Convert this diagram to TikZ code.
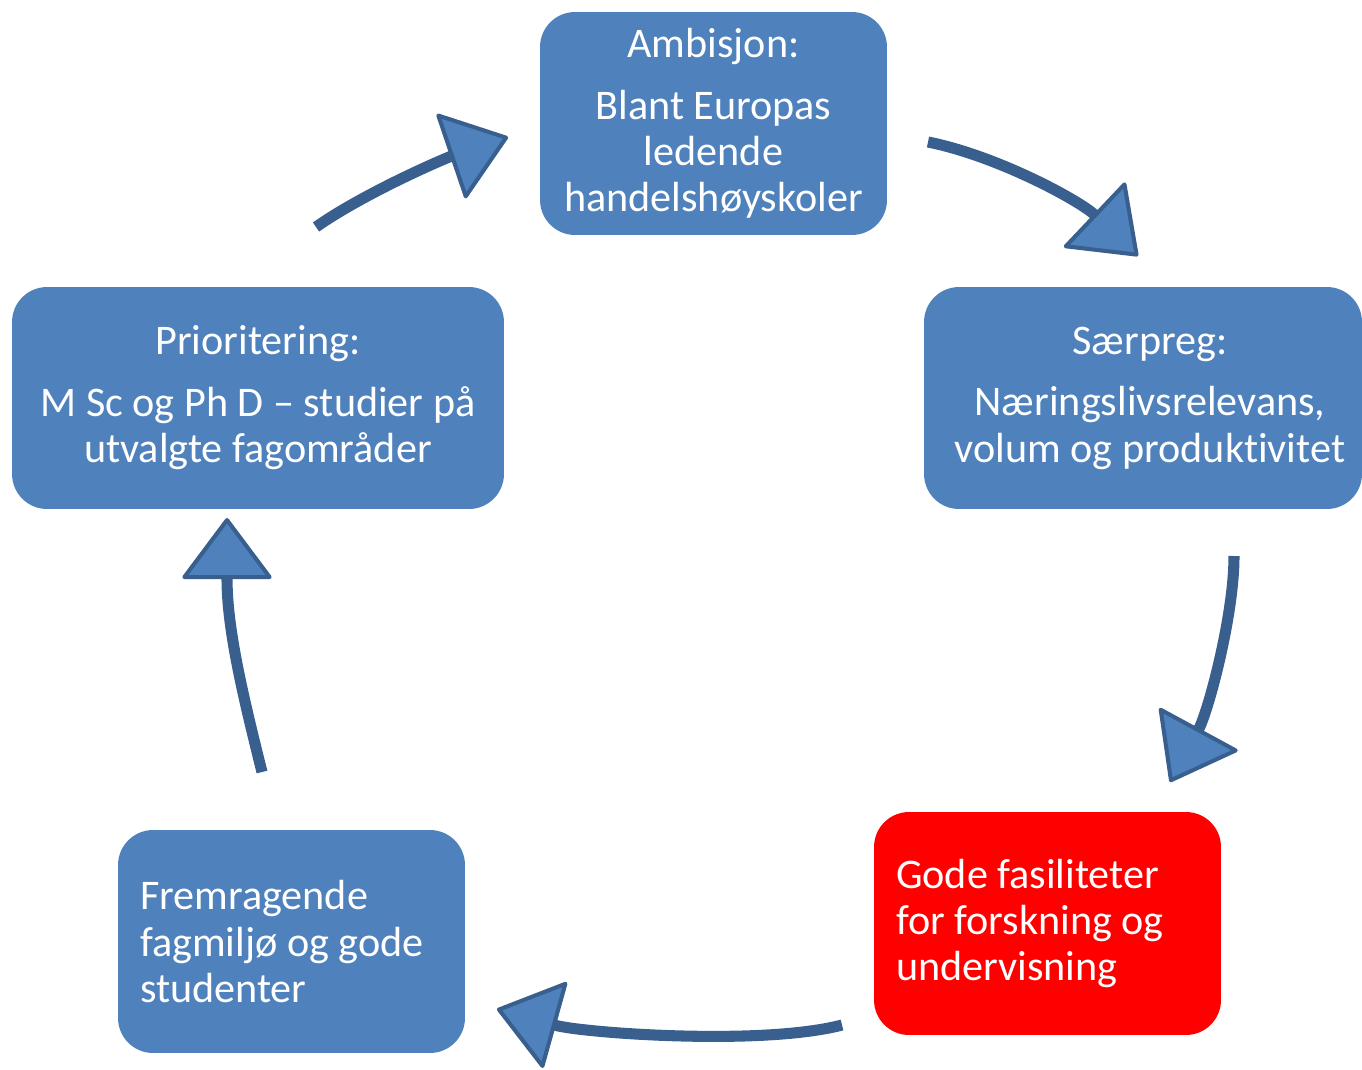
\documentclass[tikz,border=0pt]{standalone}
\usepackage{fontspec}
\setmainfont{Carlito}[Ligatures=NoCommon]
\usetikzlibrary{positioning,arrows.meta}
\definecolor{boxblue}{HTML}{4F81BD}
\definecolor{linkblue}{HTML}{385F8E}
\definecolor{hotred}{HTML}{FF0000}
\tikzstyle{bluebox} = [rectangle, rounded corners=0.7cm, minimum width=6.94cm, minimum height=4.46cm, text centered, align=center, fill=boxblue, text=white, font=\fontsize{24}{26.2}\selectfont]
\tikzstyle{leftbox} = [rectangle, rounded corners=0.7cm, minimum width=6.94cm, minimum height=4.46cm, inner xsep=0.44cm, text width=6.06cm, align=flush left, text=white, font=\fontsize{24}{26.2}\selectfont]
\tikzstyle{arrow} = [line width=6.3pt, draw=linkblue, -{Triangle[length=1.25cm, width=1.85cm, fill=boxblue, line width=2.3pt, round]}]

\begin{document}
\begin{tikzpicture}[x=0.02cm, y=-0.02cm]
\useasboundingbox (0,0) rectangle (1362,1069);
%
\node (ambisjon) at (713.5,123.5) [bluebox] {Ambisjon:\\[9pt]
Blant Europas\\ ledende\\ handelshøyskoler};
%
\node (saerpreg) at (1143,398) [bluebox, minimum width=8.76cm, minimum height=4.44cm] {\hspace*{8pt}Særpreg:\\[9pt]
\hspace*{8pt}Næringslivsrelevans,\\\hspace*{8pt}volum og produktivitet};
%
\node (fasilitet) at (1047.5,923.5) [leftbox, fill=hotred] {Gode fasiliteter\\ for forskning og\\ undervisning};
%
\node (fagmiljo) at (291.5,941.5) [leftbox, fill=boxblue] {Fremragende\\ fagmiljø og gode\\ studenter};
%
\node (prioritet) at (258,398) [bluebox, minimum width=9.84cm, minimum height=4.44cm] {Prioritering:\\[9pt]
M Sc og Ph D – studier på\\ utvalgte fagområder};
%
\coordinate (a1) at (316,227);
\coordinate (a2) at (508,137);
\coordinate (b1) at (928,142);
\coordinate (b2) at (1138,256);
\coordinate (c1) at (1234,556);
\coordinate (c2) at (1170,782);
\coordinate (d1) at (842,1025);
\coordinate (d2) at (497,1009);
\coordinate (e1) at (262,772);
\coordinate (e2) at (227,518);
%
\draw [arrow] (a1) .. controls (366,192) and (446,158) .. (a2);
\draw [arrow] (b1) .. controls (998,156) and (1080,201) .. (b2);
\draw [arrow] (c1) .. controls (1234,616) and (1208,712) .. (c2);
\draw [arrow] (d1) .. controls (762,1046) and (583,1033) .. (d2);
\draw [arrow] (e1) .. controls (242,692) and (227,628) .. (e2);

\end{tikzpicture}
\end{document}
